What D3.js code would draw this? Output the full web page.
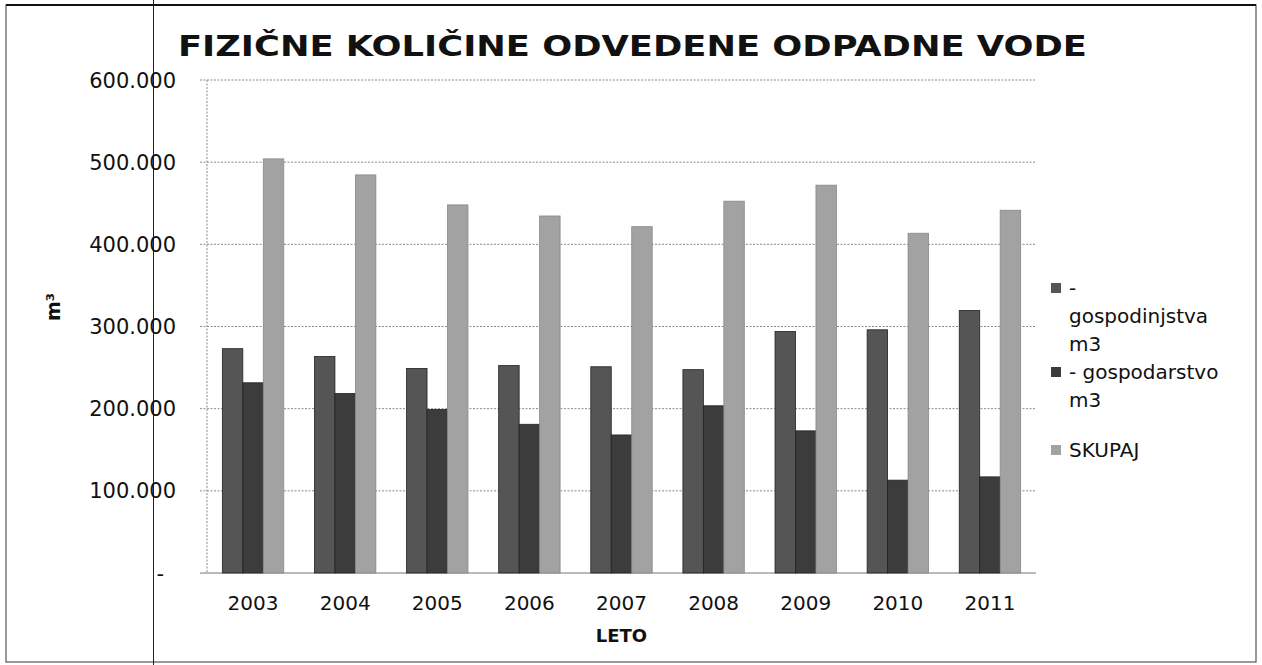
<!DOCTYPE html>
<html>
<head>
<meta charset="utf-8">
<script src="https://cdn.jsdelivr.net/npm/d3@7"></script>
<style>
  body { margin: 0; background: #fff; }
  text { font-family: "DejaVu Sans", sans-serif; fill: #111; }
</style>
</head>
<body>
<script>
// data
var years = ["2003", "2004", "2005", "2006", "2007", "2008", "2009", "2010", "2011"];
var seriesNames = ["gospodinjstva", "gospodarstvo", "SKUPAJ"];
var gospodinjstva = [273000, 263500, 249000, 252500, 251000, 247500, 294000, 296000, 319500];
var gospodarstvo = [231500, 218500, 199000, 181000, 168000, 203500, 173000, 113000, 117000];
var skupaj = [504000, 484500, 448000, 434500, 421500, 452500, 472000, 413500, 441500];
var yTicks = [0, 100000, 200000, 300000, 400000, 500000, 600000];

var W = 1262, H = 665;
var colors = { gospodinjstva: "#555555", gospodarstvo: "#3c3c3c", SKUPAJ: "#a2a2a2" };

var svg = d3.select("body").append("svg")
  .attr("width", W)
  .attr("height", H);

// scanned page frame
svg.append("rect")
  .attr("x", 6).attr("y", 5)
  .attr("width", 1250).attr("height", 657)
  .attr("fill", "none").attr("stroke", "#555").attr("stroke-width", 1.2);
svg.append("line")
  .attr("x1", 6).attr("x2", 1256).attr("y1", 5).attr("y2", 5)
  .attr("stroke", "#111").attr("stroke-width", 2.2);
svg.append("line")
  .attr("x1", 153.5).attr("x2", 153.5).attr("y1", 0).attr("y2", H)
  .attr("stroke", "#222").attr("stroke-width", 1);

// scales
var x = d3.scaleBand()
  .domain(years)
  .range([207, 1036])
  .paddingInner(1 / 3)
  .paddingOuter(1 / 6);
var xs = d3.scaleBand()
  .domain(seriesNames)
  .range([0, x.bandwidth()]);
var y = d3.scaleLinear()
  .domain([0, 600000])
  .range([573, 80]);

// gridlines
svg.append("g")
  .selectAll("line")
  .data(yTicks.slice(1)).enter()
  .append("line")
  .attr("x1", 200).attr("x2", 1036)
  .attr("y1", function(d) { return y(d); })
  .attr("y2", function(d) { return y(d); })
  .attr("stroke", "#8a8a8a")
  .attr("stroke-width", 1)
  .attr("stroke-dasharray", "2,1.5");

// left axis line and baseline
svg.append("line")
  .attr("x1", 207).attr("x2", 207).attr("y1", y(600000)).attr("y2", y(0))
  .attr("stroke", "#8a8a8a").attr("stroke-dasharray", "2,1.5");
svg.append("line")
  .attr("x1", 200).attr("x2", 1036).attr("y1", y(0)).attr("y2", y(0))
  .attr("stroke", "#777");

// bars
var rows = years.map(function(yr, i) {
  return { year: yr, values: [
    { key: "gospodinjstva", value: gospodinjstva[i] },
    { key: "gospodarstvo", value: gospodarstvo[i] },
    { key: "SKUPAJ", value: skupaj[i] }
  ] };
});

svg.append("g")
  .selectAll("g")
  .data(rows).enter()
  .append("g")
  .attr("transform", function(d) { return "translate(" + x(d.year) + ",0)"; })
  .selectAll("rect")
  .data(function(d) { return d.values; }).enter()
  .append("rect")
  .attr("x", function(d) { return xs(d.key); })
  .attr("width", xs.bandwidth())
  .attr("y", function(d) { return y(d.value); })
  .attr("height", function(d) { return y(0) - y(d.value); })
  .attr("fill", function(d) { return colors[d.key]; })
  .attr("stroke", function(d) { return d.key == "SKUPAJ" ? "#888" : "#222"; })
  .attr("stroke-width", 0.8);

// y tick labels
svg.append("g")
  .selectAll("text")
  .data(yTicks).enter()
  .append("text")
  .attr("x", function(d) { return d == 0 ? 164 : 176; })
  .attr("y", function(d) { return y(d); })
  .attr("dy", "0.36em")
  .attr("text-anchor", "end")
  .style("font-size", "21px")
  .text(function(d) { return d == 0 ? "-" : d3.format(",")(d).replace(/,/g, "."); });

// x tick labels
svg.append("g")
  .selectAll("text")
  .data(years).enter()
  .append("text")
  .attr("x", function(d) { return x(d) + x.bandwidth() / 2; })
  .attr("y", 610)
  .attr("text-anchor", "middle")
  .style("font-size", "20px")
  .text(function(d) { return d; });

// title
svg.append("text")
  .attr("x", 178).attr("y", 56)
  .attr("textLength", 909)
  .attr("lengthAdjust", "spacingAndGlyphs")
  .style("font-size", "28px")
  .style("font-weight", "bold")
  .text("FIZIČNE KOLIČINE ODVEDENE ODPADNE VODE");

// axis titles
svg.append("text")
  .attr("transform", "translate(60,307) rotate(-90)")
  .attr("text-anchor", "middle")
  .style("font-size", "19px")
  .style("font-weight", "bold")
  .text("m³");
svg.append("text")
  .attr("x", (207 + 1036) / 2).attr("y", 642)
  .attr("text-anchor", "middle")
  .style("font-size", "18px")
  .style("font-weight", "bold")
  .text("LETO");

// legend
var legend = [
  { key: "gospodinjstva", y: 288, lines: ["-", "gospodinjstva", "m3"] },
  { key: "gospodarstvo", y: 372, lines: ["- gospodarstvo", "m3"] },
  { key: "SKUPAJ", y: 450, lines: ["SKUPAJ"] }
];
var lg = svg.append("g")
  .selectAll("g")
  .data(legend).enter()
  .append("g")
  .attr("transform", function(d) { return "translate(1051," + d.y + ")"; });
lg.append("rect")
  .attr("x", 0).attr("y", -5)
  .attr("width", 10).attr("height", 10)
  .attr("fill", function(d) { return colors[d.key]; });
lg.append("text")
  .style("font-size", "20px")
  .selectAll("tspan")
  .data(function(d) { return d.lines; }).enter()
  .append("tspan")
  .attr("x", 18)
  .attr("y", function(d, i) { return i * 28; })
  .attr("dy", "0.36em")
  .text(function(d) { return d; });
</script>
</body>
</html>
